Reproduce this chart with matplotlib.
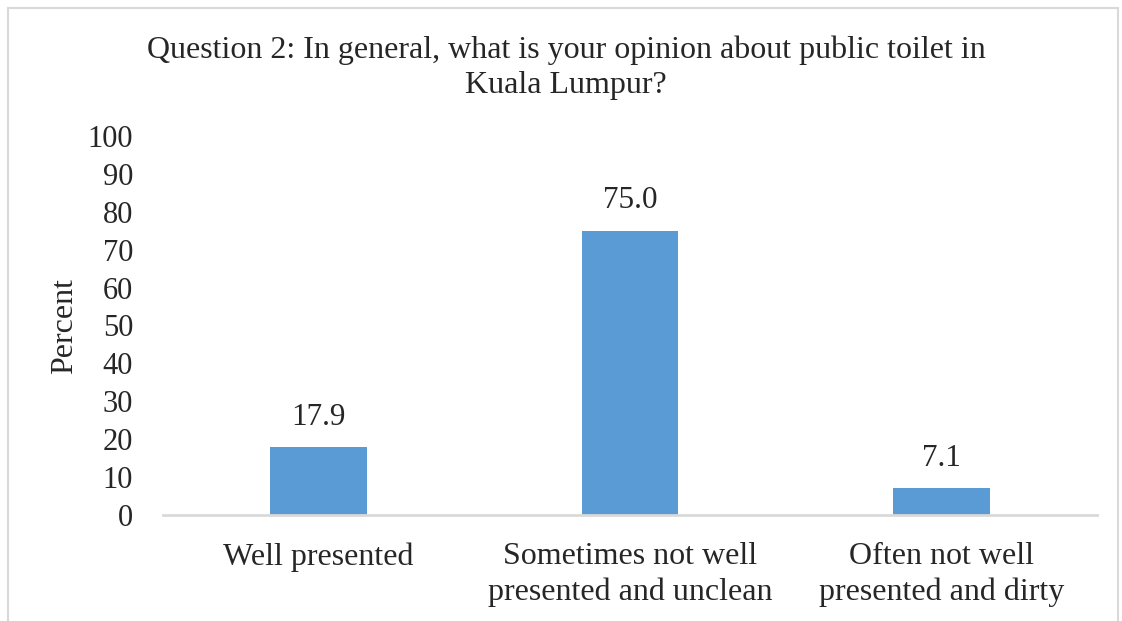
import matplotlib
matplotlib.use("Agg")
import matplotlib.pyplot as plt
from matplotlib.patches import Rectangle

categories = ["Well presented",
              "Sometimes not well\npresented and unclean",
              "Often not well\npresented and dirty"]
percent = [17.9, 75.0, 7.1]
yticks = list(range(0, 101, 10))
title = "Question 2: In general, what is your opinion about public toilet in\nKuala Lumpur?"

plt.rcParams["font.family"] = ["Liberation Serif", "DejaVu Serif"]
TXT = "#262626"

W, H = 1122, 621
fig = plt.figure(figsize=(W / 100, H / 100), dpi=100)
fig.patch.set_facecolor("white")

# outer chart frame
fig.add_artist(Rectangle((8 / W, -0.05), (1118 - 8) / W, 1 - 8 / H + 0.05,
                         transform=fig.transFigure, fill=False,
                         edgecolor="#D9D9D9", linewidth=1.5))

ax = fig.add_axes([163 / W, 1 - 515 / H, (1097 - 163) / W, (515 - 136) / H])
x = list(range(len(categories)))
bars = ax.bar(x, percent, width=0.31, color="#5B9BD5", zorder=2)

for b, v in zip(bars, percent):
    ax.annotate(f"{v:.1f}", (b.get_x() + b.get_width() / 2, v),
                xytext=(0, 30), textcoords="offset pixels",
                ha="center", va="center", fontsize=22.5, color=TXT)

ax.set_xlim(-0.5, 2.5)
ax.set_ylim(0, 100)
ax.set_yticks(yticks)
ax.set_yticklabels([str(t) for t in yticks], fontsize=22, color=TXT)
ax.set_xticks(x)
ax.set_xticklabels(categories, fontsize=23, color=TXT, linespacing=1.3)
ax.tick_params(axis="both", length=0)
ax.tick_params(axis="y", pad=21.5)
ax.tick_params(axis="x", pad=19.5)

for side in ["top", "right", "left"]:
    ax.spines[side].set_visible(False)
ax.spines["bottom"].set_color("#D9D9D9")
ax.spines["bottom"].set_linewidth(2)

fig.text(65 / W, 1 - 326 / H, "Percent", rotation=90, ha="center", va="center",
         fontsize=23, color=TXT)

fig.text(566 / W, 1 - 67.5 / H, title, ha="center", va="center",
         fontsize=23, color=TXT, linespacing=1.28)

fig.savefig("out.png", dpi=100, facecolor="white")
